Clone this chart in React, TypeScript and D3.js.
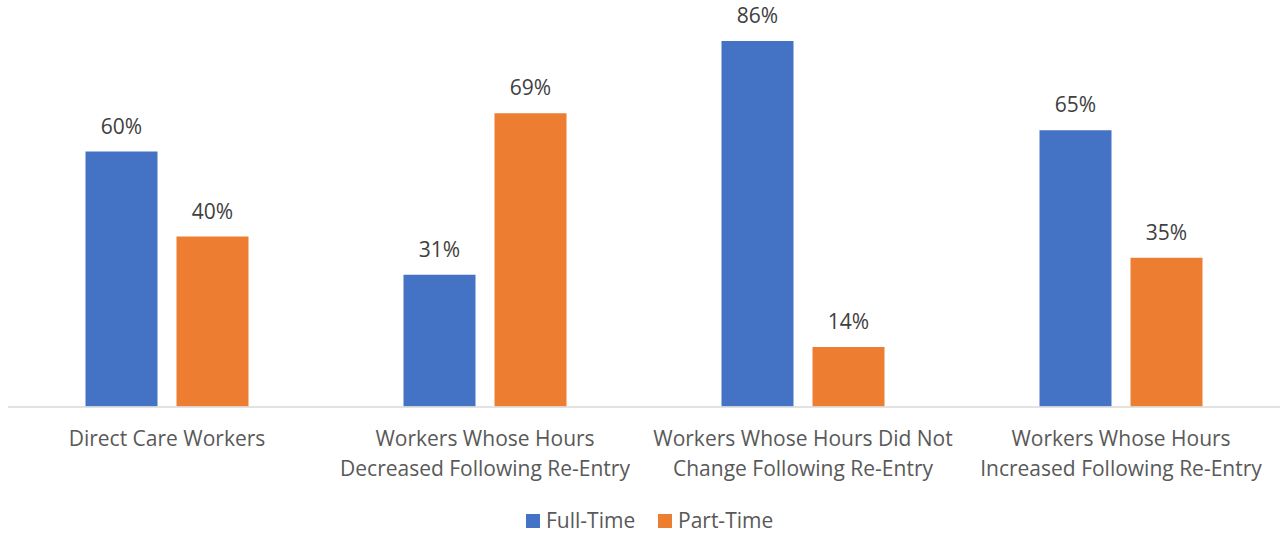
import React from "react";
import * as d3 from "d3";

const categories: string[][] = [
  ["Direct Care Workers"],
  ["Workers Whose Hours", "Decreased Following Re-Entry"],
  ["Workers Whose Hours Did Not", "Change Following Re-Entry"],
  ["Workers Whose Hours", "Increased Following Re-Entry"],
];
const seriesNames = ["Full-Time", "Part-Time"];
const fullTime = [0.6, 0.31, 0.86, 0.65];
const partTime = [0.4, 0.69, 0.14, 0.35];
const colors = ["#4472C4", "#ED7D31"];

const W = 1280;
const H = 533;
const FONT = "'Open Sans', 'Liberation Sans', sans-serif";

export default function App() {
  const x0 = d3
    .scaleBand<number>()
    .domain(d3.range(categories.length))
    .range([8, 1280]);
  const y = d3.scaleLinear().domain([0, 0.9]).range([406.5, 24]);
  const barW = 72;
  const gap = 19;
  const series = [fullTime, partTime];
  const fmt = d3.format(".0%");

  return (
    <svg
      width={W}
      height={H}
      style={{ position: "absolute", left: 0, top: 0, background: "#fff" }}
      fontFamily={FONT}
    >
      <rect width={W} height={H} fill="#fff" />
      {categories.map((cat, i) => {
        const c = (x0(i) as number) + x0.bandwidth() / 2;
        return (
          <g key={i}>
            {series.map((vals, s) => {
              const bx = s === 0 ? c - gap / 2 - barW : c + gap / 2;
              const top = y(vals[i]);
              return (
                <g key={s}>
                  <rect
                    x={bx}
                    y={top}
                    width={barW}
                    height={y(0) - top}
                    fill={colors[s]}
                  />
                  <text
                    x={bx + barW / 2}
                    y={top - 18}
                    textAnchor="middle"
                    fontSize={21}
                    fill="#404040"
                  >
                    {fmt(vals[i])}
                  </text>
                </g>
              );
            })}
            {cat.map((line, k) => (
              <text
                key={k}
                x={c}
                y={446 + k * 30}
                textAnchor="middle"
                fontSize={21}
                fill="#595959"
              >
                {line}
              </text>
            ))}
          </g>
        );
      })}
      <line x1={8} x2={1280} y1={407} y2={407} stroke="#D9D9D9" strokeWidth={1.5} />
      {seriesNames.map((n, s) => {
        const lx = s === 0 ? 526 : 658;
        return (
          <g key={n}>
            <rect x={lx} y={514} width={14} height={14} fill={colors[s]} />
            <text x={lx + 20} y={528} fontSize={21} fill="#595959">
              {n}
            </text>
          </g>
        );
      })}
    </svg>
  );
}
